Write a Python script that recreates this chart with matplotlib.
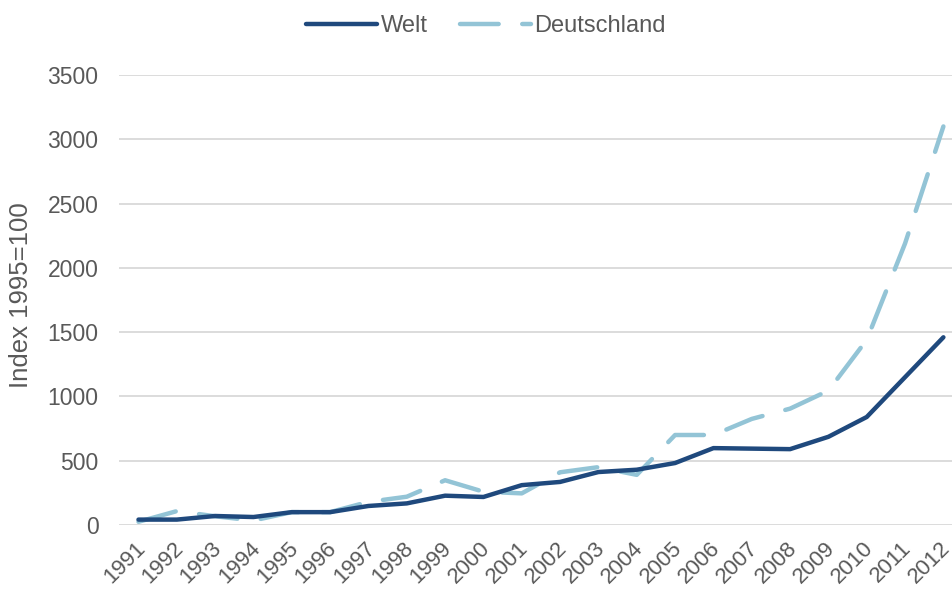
import matplotlib
matplotlib.use("Agg")
import matplotlib.pyplot as plt
from matplotlib.transforms import ScaledTranslation

years = [str(y) for y in range(1991, 2013)]
welt = [42, 42, 70, 62, 100, 100, 148, 168, 228, 218, 310, 335, 412, 430, 482, 598, 594, 590, 686, 840, 1150, 1460]
deutschland = [25, 108, 68, 35, 100, 100, 180, 220, 348, 259, 246, 410, 450, 390, 700, 700, 825, 905, 1045, 1440, 2190, 3100]

plt.rcParams['font.family'] = ['Liberation Sans', 'DejaVu Sans']
gray = '#595959'

W, H = 953, 590
fig = plt.figure(figsize=(W / 100, H / 100), dpi=100)
left_px, step = 119.3, 38.33
ax = fig.add_axes([left_px / W, (H - 525) / H, 22 * step / W, 450 / H])

x = list(range(len(years)))
ax.plot(x, welt, color='#1F497D', lw=3.2, solid_capstyle='round', solid_joinstyle='round', label='Welt', zorder=3)
ax.plot(x, deutschland, color='#93C4D6', lw=3.2, linestyle=(0, (8.7, 5.3)), dash_capstyle='round',
        dash_joinstyle='round', label='Deutschland', zorder=2)

ax.set_ylim(0, 3500)
ax.set_yticks(range(0, 3501, 500))
ax.set_xlim(-0.5, 21.5)
ax.set_xticks(x)
ax.set_xticklabels(years, rotation=45, ha='right', va='top', rotation_mode='anchor')
ax.tick_params(axis='both', length=0, labelsize=16.5, colors=gray)
ax.tick_params(axis='x', labelsize=16)
ax.tick_params(axis='y', pad=15)
ax.tick_params(axis='x', pad=9)
off = ScaledTranslation(-4 / 100, 0, fig.dpi_scale_trans)
for lab in ax.get_xticklabels():
    lab.set_transform(lab.get_transform() + off)
for s in ax.spines.values():
    s.set_visible(False)
ax.grid(axis='y', color='#D9D9D9', lw=1.3)
ax.set_axisbelow(True)
ax.set_ylabel('Index 1995=100', fontsize=18.5, color=gray, va='center')
ax.yaxis.set_label_coords(21 / W, 0.5, transform=fig.transFigure)

leg = fig.legend(loc='center', bbox_to_anchor=(486 / W, 1 - 26 / H), ncol=2, frameon=False,
                 fontsize=17, handlelength=3.0, columnspacing=1.35, handletextpad=0.17)
for t in leg.get_texts():
    t.set_color(gray)

fig.savefig('out.png', dpi=100)
